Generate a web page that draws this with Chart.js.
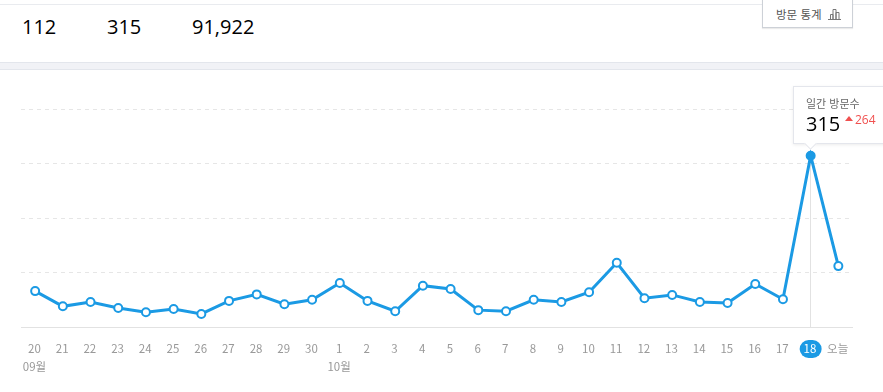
<!DOCTYPE html>
<html lang="ko">
<head>
<meta charset="utf-8">
<script src="https://cdn.jsdelivr.net/npm/chart.js@4"></script>
<style>
  html, body { margin: 0; padding: 0; background: #fff; overflow: hidden; }
  body { width: 883px; height: 392px; position: relative; font-family: 'Noto Sans CJK KR', 'Noto Sans', sans-serif; }
  #chart { position: absolute; left: 0; top: 0; }
  .topline { position: absolute; left: 0; right: 0; top: 4px; height: 1px; background: #e9ebef; }
  .band { position: absolute; left: 0; right: 0; top: 62px; height: 6px; background: #f1f2f6; border-top: 1px solid #e3e6ec; border-bottom: 1px solid #e3e6ec; }
  .stat { position: absolute; top: 12px; font-size: 20px; line-height: 30px; color: #000; font-family: 'Open Sans', sans-serif; }
  .btn { position: absolute; left: 762px; top: -2px; width: 76px; padding-left: 13px; height: 28px; background: #fff; border: 1px solid #cdd1d7; box-shadow: 0 1px 1px rgba(0,0,0,.08); font-size: 11.5px; line-height: 30px; color: #555; white-space: nowrap; }
  .btn svg { vertical-align: -1px; margin-left: 6px; }
  #tip { position: absolute; width: 95px; height: 56px; background: #fff; border: 1px solid #e4e6ec; box-shadow: 0 1px 3px rgba(0,0,0,.08); box-sizing: content-box; }
  #tip:after { content: ''; position: absolute; left: 12px; bottom: -5px; width: 8px; height: 8px; background: #fff; border-right: 1px solid #e4e6ec; border-bottom: 1px solid #e4e6ec; transform: rotate(45deg); }
  #tipTitle { position: absolute; left: 12px; top: 8px; font-size: 11px; line-height: 16px; color: #666; white-space: nowrap; }
  #tipValue { position: absolute; left: 12px; top: 23px; font-size: 20px; line-height: 28px; color: #000; font-family: 'Open Sans', sans-serif; }
  #tipDelta { position: absolute; left: 51px; top: 24px; font-size: 12px; line-height: 18px; color: #f0504f; white-space: nowrap; font-family: 'Open Sans', sans-serif; }
  #tipDelta span { display: inline-block; width: 0; height: 0; border-left: 4px solid transparent; border-right: 4px solid transparent; border-bottom: 5px solid #f0504f; vertical-align: 3px; margin-right: 2px; }
</style>
</head>
<body>
<div class="topline"></div>
<div class="band"></div>
<div class="stat" style="left:22px" id="statToday"></div>
<div class="stat" style="left:107px" id="statYesterday"></div>
<div class="stat" style="left:192px" id="statTotal"></div>
<div class="btn">방문 통계<svg width="13" height="12" viewBox="0 0 13 12" fill="none" stroke="#777" stroke-width="1"><path d="M0 11.5h13M2.5 11V6.5h2.5V11M5 11V1.5h3V11M8 11V4.5h3V11"/></svg></div>
<canvas id="chart" width="883" height="392"></canvas>
<div id="tip">
  <div id="tipTitle">일간 방문수</div>
  <div id="tipValue"></div>
  <div id="tipDelta"></div>
</div>
<script>
const days = ['20','21','22','23','24','25','26','27','28','29','30','1','2','3','4','5','6','7','8','9','10','11','12','13','14','15','16','17','18','오늘'];
const visits = [66,38,46,35,27,33,24,48,60,42,50,81,48,29,76,70,31,29,50,46,64,118,53,59,46,44,79,51,315,112];
const monthLabels = { 0: '09월', 11: '10월' };
const yTicks = [0,100,200,300,400];
const totalVisits = '91,922';
const selected = 28; // the highlighted day (18)

const blue = '#1b9ae4';

document.getElementById('statToday').textContent = visits[visits.length - 1];
document.getElementById('statYesterday').textContent = visits[selected];
document.getElementById('statTotal').textContent = totalVisits;
document.getElementById('tipValue').textContent = visits[selected];
document.getElementById('tipDelta').innerHTML = '<span></span>' + (visits[selected] - visits[selected - 1]);

const labels = days.map(function (d, i) { return monthLabels[i] ? [d, monthLabels[i]] : d; });

// vertical guide and pill behind the selected tick, tooltip placed from the scales
const selectedMark = {
  id: 'selectedMark',
  beforeDatasetsDraw: function (chart) {
    const ctx = chart.ctx;
    const x = chart.scales.x.getPixelForValue(selected);
    const y = chart.scales.y.getPixelForValue(visits[selected]);
    ctx.save();
    ctx.strokeStyle = '#e2e2e2';
    ctx.lineWidth = 1;
    ctx.beginPath();
    ctx.moveTo(Math.floor(x) + 0.5, y);
    ctx.lineTo(Math.floor(x) + 0.5, chart.chartArea.bottom);
    ctx.stroke();
    ctx.restore();
  },
  beforeDraw: function (chart) {
    const ctx = chart.ctx;
    const x = chart.scales.x.getPixelForValue(selected);
    ctx.save();
    ctx.fillStyle = blue;
    ctx.beginPath();
    ctx.roundRect(x - 11, 340, 22, 18, 9);
    ctx.fill();
    ctx.restore();
  },
  afterDraw: function (chart) {
    const x = chart.scales.x.getPixelForValue(selected);
    const y = chart.scales.y.getPixelForValue(visits[selected]);
    const tip = document.getElementById('tip');
    tip.style.left = Math.round(x - 17.5) + 'px';
    tip.style.top = Math.round(y - 70) + 'px';
  }
};

new Chart(document.getElementById('chart').getContext('2d'), {
  type: 'line',
  data: {
    labels: labels,
    datasets: [{
      data: visits,
      borderColor: blue,
      borderWidth: 3,
      tension: 0,
      pointRadius: 4,
      pointBorderWidth: 2,
      pointBorderColor: blue,
      pointBackgroundColor: function (c) { return c.dataIndex === selected ? blue : '#fff'; }
    }]
  },
  options: {
    responsive: false,
    animation: false,
    layout: { padding: { left: 21.3, right: 30.8, top: 109.5, bottom: 0 } },
    plugins: { legend: { display: false }, tooltip: { enabled: false } },
    scales: {
      x: {
        offset: true,
        grid: { display: false },
        border: { display: true, color: '#e2e2e2' },
        afterFit: function (scale) { scale.height = 65; },
        ticks: {
          autoSkip: false,
          maxRotation: 0,
          padding: 5,
          labelOffset: -0.7,
          font: { family: "'Noto Sans CJK KR', sans-serif", size: 11.5, lineHeight: '18px' },
          color: function (c) { return c.index === selected ? '#fff' : '#999'; }
        }
      },
      y: {
        min: 0,
        max: 400,
        display: true,
        afterBuildTicks: function (scale) { scale.ticks = yTicks.map(function (v) { return { value: v }; }); },
        afterFit: function (scale) { scale.width = 0; },
        border: { display: false, dash: [4, 4] },
        grid: { drawTicks: false, color: function (c) { return c.tick.value === 0 ? 'transparent' : '#e6e6e6'; } },
        ticks: { display: false }
      }
    }
  },
  plugins: [selectedMark]
});
</script>
</body>
</html>
